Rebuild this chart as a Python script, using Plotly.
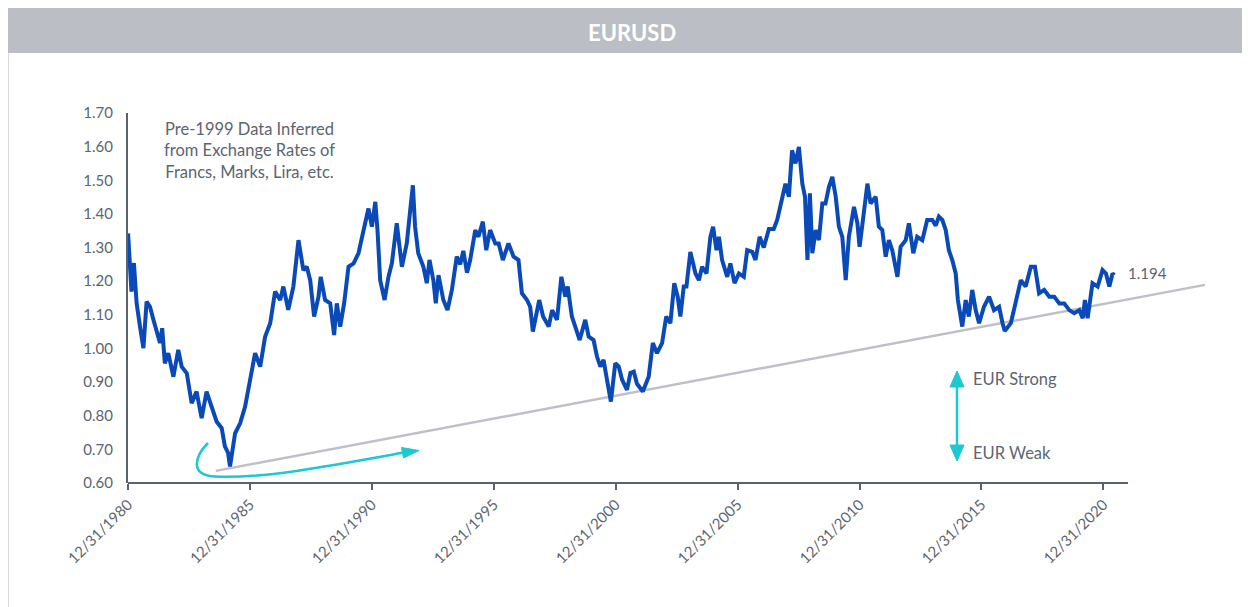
import numpy as np
import pandas as pd
import plotly.graph_objects as go

# ---------------- data ----------------
year_frac = [
    1981.00, 1981.07, 1981.14, 1981.24, 1981.35, 1981.49, 1981.63, 1981.76, 1981.90,
    1982.04, 1982.17, 1982.31, 1982.40, 1982.51, 1982.65, 1982.86,
    1983.06, 1983.20, 1983.41, 1983.61, 1983.81,
    1984.02, 1984.22, 1984.43, 1984.63, 1984.84, 1984.97,
    1985.10, 1985.18, 1985.39, 1985.60, 1985.80,
    1986.00, 1986.21, 1986.42, 1986.62, 1986.83,
    1987.03, 1987.24, 1987.37, 1987.57, 1987.78, 1987.99,
    1988.19, 1988.33, 1988.47, 1988.63, 1988.81, 1988.90,
    1989.08, 1989.29, 1989.45, 1989.56, 1989.70, 1989.86,
    1990.04, 1990.25, 1990.45, 1990.66, 1990.86,
    1991.00, 1991.14, 1991.23, 1991.34, 1991.52, 1991.68, 1991.82,
    1992.02, 1992.23, 1992.43, 1992.57, 1992.68, 1992.77, 1992.90,
    1993.11, 1993.25, 1993.36, 1993.52, 1993.62, 1993.73, 1993.93,
    1994.10, 1994.28, 1994.48, 1994.62, 1994.75, 1994.90,
    1995.03, 1995.24, 1995.37, 1995.55, 1995.69, 1995.85,
    1996.06, 1996.20, 1996.37, 1996.60, 1996.81,
    1997.01, 1997.15, 1997.36, 1997.49, 1997.60, 1997.74, 1997.86,
    1998.02, 1998.25, 1998.39, 1998.59, 1998.77, 1998.93,
    1999.03, 1999.20, 1999.34, 1999.52, 1999.75, 1999.89,
    2000.09, 2000.23, 2000.37, 2000.50, 2000.64, 2000.80, 2000.98,
    2001.12, 2001.26, 2001.46, 2001.60, 2001.74, 2001.87,
    2002.11, 2002.35, 2002.52, 2002.69, 2002.90,
    2003.07, 2003.24, 2003.40, 2003.54, 2003.65, 2003.79, 2003.90,
    2004.06, 2004.27, 2004.41, 2004.54, 2004.72, 2004.88, 2004.99,
    2005.13, 2005.23, 2005.36, 2005.57, 2005.70, 2005.87,
    2006.05, 2006.25, 2006.39, 2006.60, 2006.73, 2006.90,
    2007.07, 2007.28, 2007.48, 2007.62, 2007.82, 2007.96,
    2008.10, 2008.23, 2008.37, 2008.51, 2008.65, 2008.76, 2008.86, 2008.96,
    2009.06, 2009.20, 2009.33, 2009.47, 2009.60, 2009.74, 2009.88,
    2010.02, 2010.15, 2010.29, 2010.43, 2010.56, 2010.77, 2010.91,
    2011.00, 2011.18, 2011.32, 2011.45, 2011.66, 2011.79, 2011.93,
    2012.07, 2012.20, 2012.34, 2012.55, 2012.68, 2012.89,
    2013.02, 2013.20, 2013.36, 2013.57, 2013.77, 2013.98,
    2014.12, 2014.25, 2014.39, 2014.53, 2014.66, 2014.80, 2014.94,
    2015.03, 2015.21, 2015.35, 2015.48, 2015.62, 2015.76, 2015.90,
    2016.10, 2016.31, 2016.51, 2016.72, 2016.86, 2016.95,
    2017.20, 2017.40, 2017.61, 2017.81,
    2018.02, 2018.19, 2018.36, 2018.57, 2018.78, 2018.98,
    2019.19, 2019.39, 2019.60, 2019.80,
    2020.01, 2020.15, 2020.24, 2020.35, 2020.55, 2020.76, 2020.96,
    2021.10, 2021.24, 2021.37, 2021.44,
]
eurusd = [
    1.342, 1.250, 1.169, 1.254, 1.135, 1.065, 1.001, 1.139, 1.124,
    1.085, 1.055, 1.016, 1.060, 0.956, 0.986, 0.916,
    0.996, 0.946, 0.926, 0.837, 0.872,
    0.793, 0.872, 0.827, 0.783, 0.763, 0.709,
    0.690, 0.649, 0.748, 0.778, 0.827,
    0.907, 0.986, 0.946, 1.035, 1.075,
    1.169, 1.144, 1.184, 1.115, 1.184, 1.322,
    1.233, 1.243, 1.203, 1.095, 1.154, 1.213,
    1.144, 1.134, 1.040, 1.134, 1.065, 1.134,
    1.243, 1.253, 1.283, 1.352, 1.416,
    1.362, 1.436, 1.352, 1.203, 1.144, 1.213, 1.253,
    1.372, 1.243, 1.312, 1.411, 1.485, 1.362, 1.283,
    1.243, 1.194, 1.263, 1.203, 1.134, 1.218, 1.144,
    1.114, 1.174, 1.273, 1.250, 1.290, 1.225,
    1.263, 1.352, 1.332, 1.377, 1.292, 1.352,
    1.312, 1.312, 1.263, 1.312, 1.273,
    1.263, 1.164, 1.144, 1.124, 1.050, 1.105, 1.144,
    1.095, 1.065, 1.114, 1.085, 1.213, 1.154,
    1.184, 1.095, 1.065, 1.025, 1.085, 1.035,
    1.025, 0.976, 0.946, 0.966, 0.907, 0.842, 0.956,
    0.946, 0.907, 0.877, 0.927, 0.931, 0.895,
    0.872, 0.916, 1.016, 0.986, 1.016,
    1.095, 1.075, 1.194, 1.154, 1.095, 1.184, 1.184,
    1.287, 1.223, 1.203, 1.243, 1.223, 1.332, 1.362,
    1.292, 1.332, 1.263, 1.213, 1.253, 1.194,
    1.223, 1.213, 1.292, 1.287, 1.263, 1.332,
    1.300, 1.355, 1.355, 1.382, 1.445, 1.490,
    1.451, 1.589, 1.550, 1.599, 1.490, 1.451, 1.263, 1.461,
    1.283, 1.352, 1.322, 1.431, 1.431, 1.480, 1.510,
    1.451, 1.362, 1.332, 1.203, 1.332, 1.421, 1.372,
    1.302, 1.411, 1.490, 1.431, 1.451, 1.362, 1.352,
    1.273, 1.322, 1.292, 1.213, 1.302, 1.322,
    1.372, 1.283, 1.332, 1.322, 1.382, 1.382,
    1.365, 1.392, 1.382, 1.352, 1.292, 1.263, 1.223,
    1.144, 1.065, 1.144, 1.095, 1.174, 1.114, 1.075,
    1.124, 1.154, 1.114, 1.124, 1.075, 1.052,
    1.075, 1.144, 1.203, 1.184,
    1.243, 1.243, 1.164, 1.174, 1.154, 1.154,
    1.134, 1.134, 1.114, 1.105,
    1.114, 1.090, 1.144, 1.090, 1.194, 1.184, 1.233,
    1.223, 1.184, 1.223, 1.218,
]
trend_years = [1984.60, 2025.16]
trend_values = [0.636, 1.189]
tick_dates = ["1980-12-31", "1985-12-31", "1990-12-31", "1995-12-31", "2000-12-31",
              "2005-12-31", "2010-12-31", "2015-12-31", "2020-12-31"]
tick_labels = ["12/31/1980", "12/31/1985", "12/31/1990", "12/31/1995", "12/31/2000",
               "12/31/2005", "12/31/2010", "12/31/2015", "12/31/2020"]
last_label = "1.194"
title_text = "EURUSD"
note_text = "Pre-1999 Data Inferred<br>from Exchange Rates of<br>Francs, Marks, Lira, etc."


def frac_to_date(y):
    yr = int(np.floor(y))
    start = pd.Timestamp(year=yr, month=1, day=1)
    end = pd.Timestamp(year=yr + 1, month=1, day=1)
    return start + (end - start) * (y - yr)


dates = [frac_to_date(v) for v in year_frac]
trend_dates = [frac_to_date(v) for v in trend_years]

# ---------------- layout geometry ----------------
OFF = 8                      # page body margin in the browser
W, H = 1250 - OFF, 607 - OFF
L, R, T, B = 120, 44, 105, 124
PW, PH = W - L - R, H - T - B


def px(x):          # x in page pixels -> paper fraction
    return (x - OFF - L) / PW


def py(y):          # y in page pixels -> paper fraction
    return (H - B - (y - OFF)) / PH


BLUE = "#0a49b8"
CYAN = "#1cc8d2"
GREY_TXT = "#5c6571"
AXIS = "#5a6270"
FONT = "Lato, 'Source Sans Pro', sans-serif"

x_start = pd.Timestamp("1980-12-31")
x_axis_end = pd.Timestamp("2022-01-03")     # where the drawn axis line stops
x_axis_end_px = 1128
full_span = (x_axis_end - x_start) / px(x_axis_end_px)
x_full_end = x_start + full_span
axis_line_frac = (x_axis_end - x_start) / full_span

fig = go.Figure()
fig.add_trace(go.Scatter(x=trend_dates, y=trend_values, mode="lines",
                         line=dict(color="#bfbfc8", width=2.5), hoverinfo="skip",
                         showlegend=False))
fig.add_trace(go.Scatter(x=dates, y=eurusd, mode="lines",
                         line=dict(color=BLUE, width=4), showlegend=False))


def path_from(points, cmds):
    s = ""
    for c, pts in zip(cmds, points):
        s += c + " " + " ".join(f"{px(a):.5f},{py(b):.5f}" for a, b in pts) + " "
    return s.strip()


shapes = []
shapes.append(dict(type="rect", xref="paper", yref="paper", x0=px(7), x1=px(1250),
                   y0=py(53), y1=py(7), fillcolor="#bbbec5", line=dict(width=0), layer="below"))
shapes.append(dict(type="line", xref="paper", yref="paper", x0=px(8.5), x1=px(8.5),
                   y0=py(53), y1=py(607), line=dict(color="#d8d8d8", width=1)))
shapes.append(dict(type="line", xref="paper", yref="paper", x0=0, x1=axis_line_frac,
                   y0=0, y1=0, line=dict(color=AXIS, width=2)))
shapes.append(dict(type="path", xref="paper", yref="paper",
                   path=path_from([[(208, 443)], [(196, 455), (188, 475), (215, 476.5)],
                                   [(262, 479), (330, 466), (404, 452.5)]], ["M", "C", "C"]),
                   line=dict(color=CYAN, width=2.5)))
shapes.append(dict(type="path", xref="paper", yref="paper",
                   path=path_from([[(419, 450.5)], [(401.5, 447.5)], [(403.5, 458)]], ["M", "L", "L"]) + " Z",
                   fillcolor=CYAN, line=dict(color=CYAN, width=1)))
shapes.append(dict(type="line", xref="paper", yref="paper", x0=px(957), x1=px(957),
                   y0=py(383), y1=py(449), line=dict(color=CYAN, width=2.5)))
shapes.append(dict(type="path", xref="paper", yref="paper",
                   path=path_from([[(957, 371)], [(950, 387)], [(964, 387)]], ["M", "L", "L"]) + " Z",
                   fillcolor=CYAN, line=dict(color=CYAN, width=1)))
shapes.append(dict(type="path", xref="paper", yref="paper",
                   path=path_from([[(957, 461)], [(950, 445)], [(964, 445)]], ["M", "L", "L"]) + " Z",
                   fillcolor=CYAN, line=dict(color=CYAN, width=1)))

annotations = [
    dict(text=f"<b>{title_text}</b>", xref="paper", yref="paper", x=px(632), y=py(32),
         xanchor="center", yanchor="middle",
         showarrow=False, font=dict(size=22, color="white", family=FONT)),
    dict(text=note_text, xref="paper", yref="paper", x=px(249), y=py(151),
         xanchor="center", yanchor="middle",
         showarrow=False, align="center", font=dict(size=16.5, color=GREY_TXT, family=FONT)),
    dict(text="EUR Strong", xref="paper", yref="paper", x=px(971), y=py(379),
         xanchor="left", yanchor="middle", showarrow=False,
         font=dict(size=16.5, color=GREY_TXT, family=FONT)),
    dict(text="EUR Weak", xref="paper", yref="paper", x=px(971), y=py(453),
         xanchor="left", yanchor="middle", showarrow=False,
         font=dict(size=16.5, color=GREY_TXT, family=FONT)),
    dict(text=last_label, x=dates[-1], y=eurusd[-1], xref="x", yref="y", xanchor="left",
         yanchor="middle", xshift=12, yshift=2, showarrow=False,
         font=dict(size=15, color=GREY_TXT, family=FONT)),
]

fig.update_layout(
    width=W, height=H,
    margin=dict(l=L, r=R, t=T, b=B),
    paper_bgcolor="white", plot_bgcolor="white",
    font=dict(family=FONT, color=GREY_TXT, size=15),
    shapes=shapes, annotations=annotations,
    xaxis=dict(type="date", range=[x_start, x_full_end], showline=False, showgrid=False,
               zeroline=False, tickvals=tick_dates, ticktext=tick_labels, tickangle=-45,
               ticks="outside", ticklen=6, tickwidth=2, tickcolor=AXIS,
               tickfont=dict(size=15, color=GREY_TXT)),
    yaxis=dict(range=[0.6, 1.7], dtick=0.1, tick0=0.6, tickformat=".2f", showgrid=False,
               zeroline=False, showline=True, linecolor=AXIS, linewidth=2,
               ticks="outside", ticklen=10, tickcolor="rgba(0,0,0,0)",
               tickfont=dict(size=15, color=GREY_TXT)),
)

fig.write_html("out.html")
